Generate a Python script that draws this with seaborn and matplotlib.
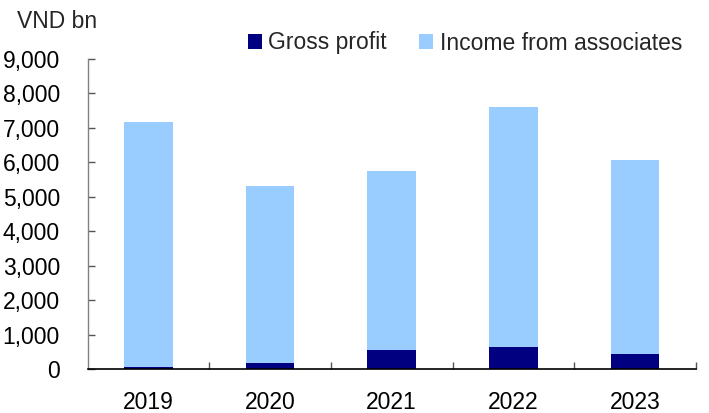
import matplotlib
matplotlib.use("Agg")
import matplotlib.pyplot as plt
from matplotlib.patches import Patch
import seaborn as sns
import pandas as pd

years = ["2019", "2020", "2021", "2022", "2023"]
gross_profit = [60, 175, 550, 640, 435]
income_from_associates = [7120, 5125, 5200, 6980, 5645]

df = pd.DataFrame({
    "year": years,
    "gross": gross_profit,
    "associates": income_from_associates,
})
df["total"] = df["gross"] + df["associates"]

NAVY = "#000080"
LIGHT = "#99CCFF"

sns.set_theme(style="white")
plt.rcParams["font.family"] = ["Liberation Sans", "DejaVu Sans"]

fig = plt.figure(figsize=(7.09, 4.13), dpi=100)
ax = fig.add_axes([87.7 / 709, 1 - 369 / 413, (695.7 - 87.7) / 709, (369 - 59) / 413])

# stacked: full height in light blue, gross profit at the base in navy
sns.barplot(data=df, x="year", y="total", color=LIGHT, width=0.4,
            saturation=1, ax=ax, linewidth=0)
sns.barplot(data=df, x="year", y="gross", color=NAVY, width=0.4,
            saturation=1, ax=ax, linewidth=0)

ax.set_xlim(-0.5, len(years) - 0.5)
ax.set_ylim(0, 9000)
ax.set_yticks(range(0, 9001, 1000))
ax.set_yticklabels([f"{v:,}" for v in range(0, 9001, 1000)])
ax.set_xlabel("")
ax.set_ylabel("")

for side in ("top", "right"):
    ax.spines[side].set_visible(False)
ax.spines["left"].set_color("#808080")
ax.spines["bottom"].set_color("black")
ax.spines["left"].set_linewidth(1.0)
ax.spines["bottom"].set_linewidth(1.2)

# y ticks point inward; x ticks sit on the category boundaries
ax.tick_params(axis="y", direction="in", length=5, width=1, color="#555555",
               left=True, pad=20, labelsize=16.5, labelcolor="black")
ax.set_xticks([i - 0.5 for i in range(1, len(years) + 1)], minor=True)
ax.tick_params(axis="x", which="major", length=0, pad=16, labelsize=16.5,
               labelcolor="black")
ax.tick_params(axis="x", which="minor", direction="in", length=5, width=1,
               color="#555555", bottom=True)

fig.text(17 / 709, 1 - 21 / 413, "VND bn", fontsize=16.5, va="center", ha="left")

handles = [Patch(facecolor=NAVY, edgecolor="none", label="Gross profit"),
           Patch(facecolor=LIGHT, edgecolor="none", label="Income from associates")]
fig.legend(handles=handles, loc="center", bbox_to_anchor=(465 / 709, 1 - 43 / 413),
           ncol=2, frameon=False, fontsize=16.5, handlelength=0.6, handleheight=0.6,
           handletextpad=0.3, columnspacing=1.4, borderpad=0)

fig.savefig("out.png", dpi=100)
